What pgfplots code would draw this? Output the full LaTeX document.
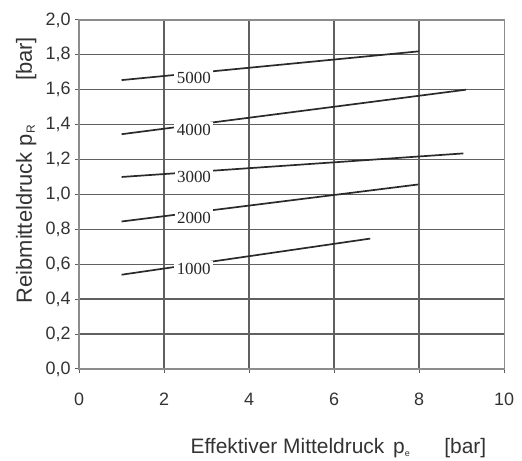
\documentclass[border=0pt]{standalone}
\usepackage{pgfplots}
\pgfplotsset{compat=1.18}
\usepackage{fontspec}
\setmainfont{Liberation Sans}
\newfontfamily\seriffont{Liberation Serif}
\definecolor{gridc}{HTML}{606060}
\definecolor{framec}{HTML}{8C8C8C}
\definecolor{linec}{HTML}{2A2A2A}
\begin{document}
\begin{tikzpicture}
\begin{axis}[
  scale only axis, width=425bp, height=349bp,
  xmin=0, xmax=10, ymin=0, ymax=2,
  xtick={0,2,4,6,8,10},
  ytick={0,0.2,0.4,0.6,0.8,1.0,1.2,1.4,1.6,1.8,2.0},
  grid=major, grid style={gridc, line width=1.3bp},
  axis line style={framec, line width=1.3bp},
  tick style={gridc, line width=1bp}, tick align=outside, major tick length=4bp,
  xtick pos=bottom, ytick pos=left,
  /pgf/number format/assume math mode=true,
  ticklabel style={font=\fontsize{18}{20}\selectfont, text=black!80},
  yticklabel style={xshift=-1bp, /pgf/number format/.cd, fixed, fixed zerofill, precision=1, use comma},
  xticklabel style={yshift=-16bp, text height=13bp, text depth=0bp},
  xlabel={Effektiver Mitteldruck\hspace{3bp} p\textsubscript{\fontsize{9}{9}\selectfont e}\hspace{34bp}[bar]},
  ylabel={Reibmitteldruck p\textsubscript{\fontsize{12}{12}\selectfont R}\hspace{44bp}[bar]},
  xlabel style={font=\fontsize{21}{23}\selectfont, text=black!80, at={(axis description cs:0.254,-0.241)}, anchor=base west},
  ylabel style={font=\fontsize{22}{24}\selectfont, text=black!80, at={(axis description cs:-0.111,0.178)}, anchor=base west},
  clip=false,
]
\tikzset{lbl/.style={fill=white, inner sep=2.5bp, yshift=-5bp, text=black!85, font=\seriffont\fontsize{17}{17}\selectfont}}
\addplot[linec, line width=1.7bp] coordinates {(1,1.655) (8,1.82)} node[lbl, pos=0.243]{5000};
\addplot[linec, line width=1.7bp] coordinates {(1,1.345) (9.1,1.60)} node[lbl, pos=0.21]{4000};
\addplot[linec, line width=1.7bp] coordinates {(1,1.10) (9.04,1.235)} node[lbl, pos=0.212]{3000};
\addplot[linec, line width=1.7bp] coordinates {(1,0.845) (7.98,1.057)} node[lbl, pos=0.244]{2000};
\addplot[linec, line width=1.7bp] coordinates {(1,0.54) (6.85,0.747)} node[lbl, pos=0.29]{1000};
\path (rel axis cs:-0.186,-0.258) rectangle (rel axis cs:1.042,1.057);
\end{axis}
\end{tikzpicture}
\end{document}
